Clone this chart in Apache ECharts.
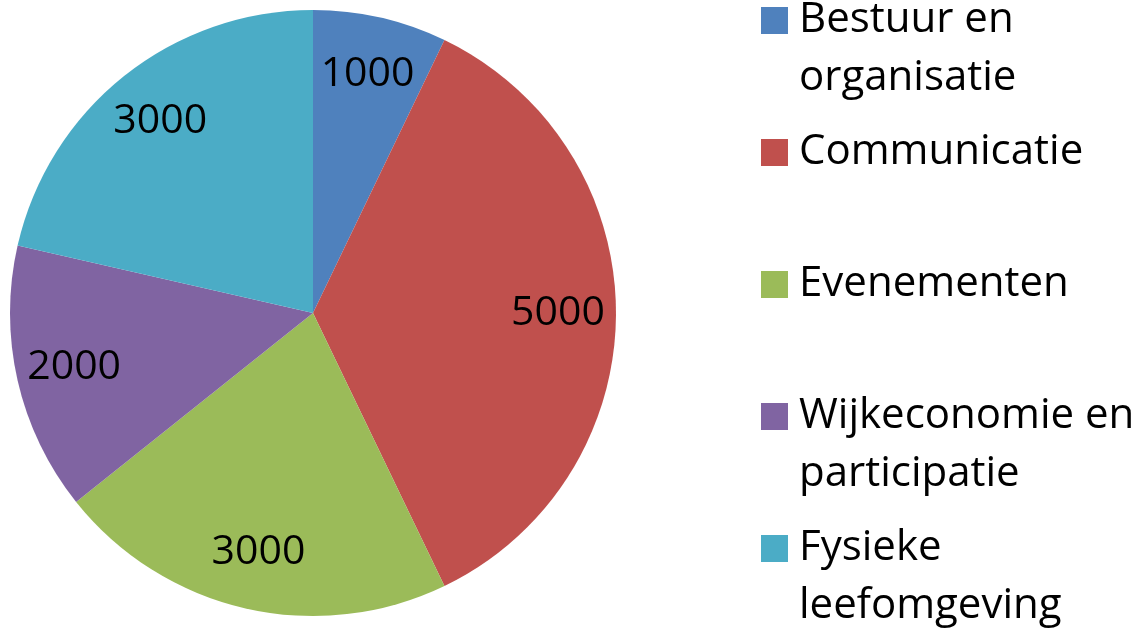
<!DOCTYPE html>
<html>
<head>
<meta charset="utf-8">
<script src="https://cdn.jsdelivr.net/npm/echarts@6/dist/echarts.min.js"></script>
<style>
  html, body { margin: 0; padding: 0; background: #fff; }
  #chart { width: 1142px; height: 629px; }
</style>
</head>
<body>
<div id="chart"></div>
<script>
// categories and values
const categories = ['Bestuur en organisatie', 'Communicatie', 'Evenementen', 'Wijkeconomie en participatie', 'Fysieke leefomgeving']
const legendLines = ['Bestuur en\norganisatie', 'Communicatie', 'Evenementen', 'Wijkeconomie en\nparticipatie', 'Fysieke\nleefomgeving']
const values = [1000, 5000, 3000, 2000, 3000]
const colors = ['#4F81BD', '#C0504D', '#9BBB59', '#8064A2', '#4BACC6']

const fontFamily = 'Open Sans'
const fontSize = 42
const lineH = 58
// vertical centre of each legend square
const legendCenters = [20.5, 152.5, 284.5, 416.5, 548.5]

let myChart = echarts.init(document.getElementById('chart'))

let pieData = categories.map((name, i) => ({
  name: name,
  value: values[i],
  itemStyle: { color: colors[i] }
}))

let legends = categories.map((name, i) => {
  let twoLines = legendLines[i].indexOf('\n') >= 0
  return {
    data: [name],
    left: 761,
    top: legendCenters[i] - (twoLines ? lineH * 1.5 : lineH / 2),
    padding: 0,
    orient: 'vertical',
    itemWidth: 27,
    itemHeight: 27,
    icon: 'rect',
    selectedMode: false,
    // an empty first line keeps the square level with the first text line
    formatter: function () {
      return twoLines ? ' \n' + legendLines[i] : legendLines[i]
    },
    textStyle: {
      color: '#000',
      fontFamily: fontFamily,
      fontSize: fontSize,
      lineHeight: lineH,
      padding: [0, 0, 0, 6]
    }
  }
})

myChart.setOption({
  backgroundColor: '#fff',
  animation: false,
  legend: legends,
  series: [
    {
      name: 'pie',
      type: 'pie',
      center: [313, 313],
      radius: [0, 303],
      startAngle: 90,
      clockwise: true,
      silent: true,
      itemStyle: { borderWidth: 0 },
      label: { show: false },
      labelLine: { show: false },
      data: pieData
    },
    {
      // transparent ring used only to place the value labels further out
      name: 'labels',
      type: 'pie',
      center: [313, 313],
      radius: [181, 303],
      startAngle: 90,
      clockwise: true,
      silent: true,
      itemStyle: { color: 'rgba(0,0,0,0)', borderWidth: 0 },
      label: {
        show: true,
        position: 'inside',
        formatter: '{c}',
        color: '#000',
        fontFamily: fontFamily,
        fontSize: 41
      },
      labelLine: { show: false },
      data: categories.map((name, i) => ({ name: name, value: values[i] }))
    }
  ]
})
</script>
</body>
</html>
